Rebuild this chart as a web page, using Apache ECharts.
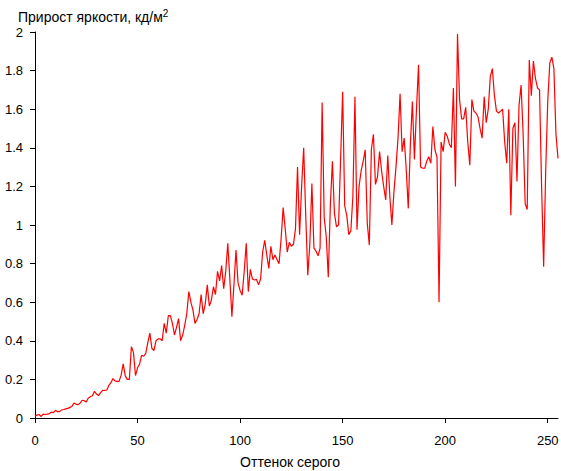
<!DOCTYPE html>
<html>
<head>
<meta charset="utf-8">
<script src="https://cdn.jsdelivr.net/npm/echarts@6/dist/echarts.min.js"></script>
<style>
html,body{margin:0;padding:0;background:#fff;}
#chart{width:561px;height:471px;}
</style>
</head>
<body>
<div id="chart"></div>
<script>
var titleMain = 'Прирост яркости, кд/м';
var titleSup = '2';
var xName = 'Оттенок серого';
var xTicks = [0, 50, 100, 150, 200, 250];
var yTicks = [0, 0.2, 0.4, 0.6, 0.8, 1, 1.2, 1.4, 1.6, 1.8, 2];

var vals0 = [0.01,0.015,0.018,0.008,0.02,0.018,0.02,0.023,0.03,0.028,
0.04,0.033,0.033,0.042,0.044,0.047,0.05,0.055,0.06,0.078,
0.072,0.069,0.077,0.092,0.09,0.083,0.104,0.11,0.115,0.138,
0.124,0.116,0.131,0.143,0.143,0.145,0.169,0.183,0.204,0.192,
0.19,0.19,0.222,0.28,0.218,0.2,0.2,0.37,0.34,0.22];
var vals50 = [0.26,0.28,0.325,0.32,0.335,0.39,0.44,0.36,0.35,0.40,
0.41,0.41,0.40,0.49,0.44,0.53,0.53,0.49,0.43,0.47,
0.515,0.40,0.43,0.48,0.54,0.655,0.60,0.56,0.49,0.51,
0.54,0.64,0.54,0.59,0.69,0.58,0.61,0.68,0.64,0.76,
0.71,0.79,0.67,0.76,0.905,0.72,0.525,0.69,0.87,0.70];
var vals100 = [0.66,0.636,0.76,0.905,0.655,0.77,0.72,0.715,0.718,0.69,
0.72,0.86,0.92,0.845,0.775,0.89,0.82,0.845,0.82,0.80,
0.93,1.09,0.98,0.86,0.91,0.89,0.90,0.98,1.30,0.95,
1.20,1.40,1.05,0.74,0.90,1.215,0.88,0.865,0.84,0.88,
1.635,1.04,0.94,0.73,1.10,1.33,1.06,0.99,1.0,1.34];
var vals150 = [1.69,1.10,1.05,0.95,0.97,1.15,1.665,0.975,1.2,1.28,
1.33,1.39,1.01,0.896,1.39,1.47,1.21,1.25,1.38,1.28,
1.2,1.13,1.36,1.15,1.0,1.17,1.30,1.45,1.68,1.38,
1.45,1.29,1.086,1.41,1.64,1.34,1.60,1.83,1.30,1.294,
1.294,1.33,1.354,1.32,1.51,1.39,1.35,0.60,1.43,1.38];
var vals200 = [1.48,1.46,1.42,1.40,1.71,1.20,1.99,1.65,1.55,1.55,
1.61,1.43,1.31,1.65,1.59,1.58,1.56,1.50,1.45,1.665,
1.53,1.60,1.77,1.81,1.67,1.59,1.58,1.59,1.60,1.43,
1.32,1.60,1.05,1.50,1.53,1.225,1.62,1.725,1.47,1.11,
1.08,1.855,1.67,1.85,1.76,1.71,1.70,1.20,0.784,1.28,
1.64,1.84,1.87,1.81,1.47,1.345];

var values = vals0.concat(vals50, vals100, vals150, vals200);
var seriesData = values.map(function (v, i) { return [i, v]; });

var FONT = '"Liberation Sans", Arial, sans-serif';
var chart = echarts.init(document.getElementById('chart'), null, {renderer: 'svg'});
chart.setOption({
  animation: false,
  backgroundColor: '#ffffff',
  title: {
    text: '{a|' + titleMain + '}{b|' + titleSup + '}',
    left: 13,
    top: 3,
    textStyle: {
      fontWeight: 'normal',
      rich: {
        a: {fontFamily: FONT, fontSize: 14, fontWeight: 'normal', color: '#000'},
        b: {fontFamily: FONT, fontSize: 10, fontWeight: 'normal', color: '#000', padding: [0, 0, 7, 0]}
      }
    }
  },
  grid: {left: 35, right: 3, top: 32, bottom: 53, containLabel: false, outerBoundsMode: 'none'},
  xAxis: {
    type: 'value',
    min: 0,
    max: 255,
    interval: 50,
    name: xName,
    nameLocation: 'middle',
    nameGap: 37,
    nameTextStyle: {fontFamily: FONT, fontSize: 14, color: '#000', padding: [0, 13, 0, 0]},
    axisLine: {show: true, onZero: false, lineStyle: {color: '#000', width: 1}},
    axisTick: {show: true, length: 5, lineStyle: {color: '#000'}, customValues: xTicks},
    axisLabel: {fontFamily: FONT, fontSize: 13, color: '#000', margin: 16, customValues: xTicks},
    splitLine: {show: false}
  },
  yAxis: {
    type: 'value',
    min: 0,
    max: 2,
    interval: 0.2,
    axisLine: {show: true, lineStyle: {color: '#000', width: 1}},
    axisTick: {show: true, length: 5, lineStyle: {color: '#000'}},
    axisLabel: {fontFamily: FONT, fontSize: 13, color: '#000', margin: 12,
      formatter: function (v) { return String(Math.round(v * 10) / 10); }},
    splitLine: {show: false}
  },
  series: [{
    type: 'line',
    data: seriesData,
    symbol: 'none',
    lineStyle: {color: '#ff0000', width: 1.2},
    itemStyle: {color: '#ff0000'},
    clip: true
  }]
});
</script>
</body>
</html>
